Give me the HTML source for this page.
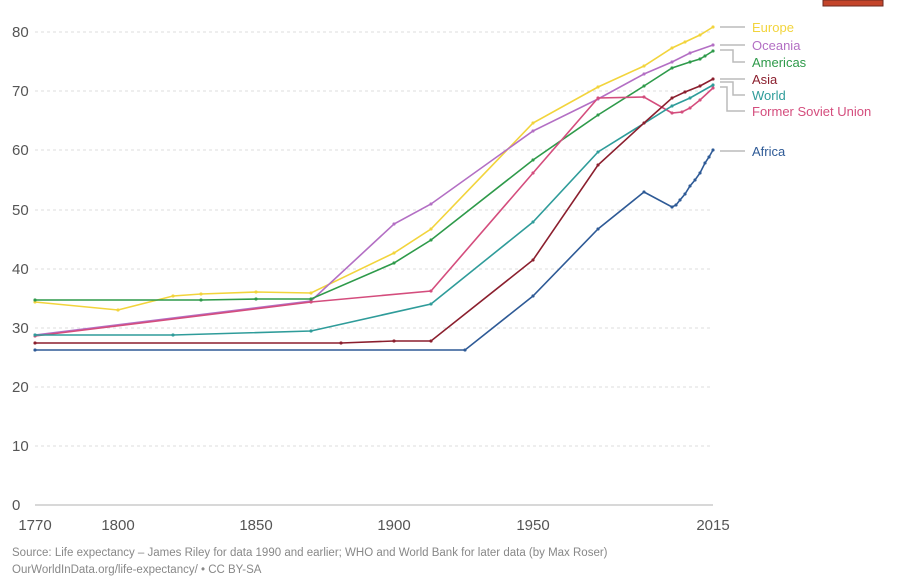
<!DOCTYPE html><html><head><style>body{margin:0;background:#fff}svg{display:block;font-family:"Liberation Sans",sans-serif}</style></head><body>
<svg width="900" height="581" viewBox="0 0 900 581">
<defs>
<marker id="d" viewBox="0 0 4 4" refX="2" refY="2" markerWidth="2" markerHeight="2"><circle cx="2" cy="2" r="2" fill="context-stroke"/></marker>
</defs>
<rect x="823" y="0" width="60" height="6" fill="#c4452b" stroke="#6b2a20" stroke-width="1"/>
<g stroke="#ddd" stroke-dasharray="3,3" stroke-width="1">
<line x1="35" x2="713" y1="32" y2="32"/><line x1="35" x2="713" y1="91" y2="91"/><line x1="35" x2="713" y1="150" y2="150"/><line x1="35" x2="713" y1="210" y2="210"/><line x1="35" x2="713" y1="269" y2="269"/><line x1="35" x2="713" y1="328" y2="328"/><line x1="35" x2="713" y1="387" y2="387"/><line x1="35" x2="713" y1="446" y2="446"/>
</g>
<line x1="35" x2="713" y1="505" y2="505" stroke="#ccc" stroke-width="1.5"/>
<g fill="#555" font-size="15">
<text x="12" y="37">80</text><text x="12" y="96">70</text><text x="12" y="155">60</text><text x="12" y="215">50</text><text x="12" y="274">40</text><text x="12" y="333">30</text><text x="12" y="392">20</text><text x="12" y="451">10</text><text x="12" y="510">0</text>
<text x="35" y="530" text-anchor="middle">1770</text><text x="118" y="530" text-anchor="middle">1800</text><text x="256" y="530" text-anchor="middle">1850</text><text x="394" y="530" text-anchor="middle">1900</text><text x="533" y="530" text-anchor="middle">1950</text><text x="713" y="530" text-anchor="middle">2015</text>
</g>
<g fill="none" stroke-width="1.6" marker-start="url(#d)" marker-mid="url(#d)" marker-end="url(#d)">
<polyline stroke="#f2d43c" points="35,302 118,310 173,296 201,294 256,292 311,293 394,253 431,229 533,123 598,87 644,66 672,48 685,42 700,35 713,27"/>
<polyline stroke="#b36fc4" points="35,335 311,301 394,224 431,204 533,131 598,99 644,74 672,62 690,53 713,45"/>
<polyline stroke="#2e9a4a" points="35,300 201,300 256,299 311,299 394,263 431,240 533,160 598,115 644,86 672,68 690,62 700,59 705,56 713,51"/>
<polyline stroke="#d44d7d" points="35,336 311,302 431,291 533,173 598,98 644,97 672,113 682,112 690,108 700,100 713,88"/>
<polyline stroke="#2f9c9a" points="35,335 173,335 311,331 431,304 533,222 598,152 672,106 690,98 713,85"/>
<polyline stroke="#8b1f2e" points="35,343 341,343 394,341 431,341 533,260 598,165 644,123 672,98 685,92 700,86 713,79"/>
<polyline stroke="#2e5a96" points="35,350 465,350 533,296 598,229 644,192 672,207 676,205 680,200 685,194 690,186 695,180 700,173 705,163 709,157 713,150"/>
</g>
<g stroke="#bbb" fill="none" stroke-width="1.5">
<line x1="720" x2="745" y1="27" y2="27"/>
<line x1="720" x2="745" y1="45" y2="45"/>
<polyline points="720,50 733,50 733,62 745,62"/>
<line x1="720" x2="745" y1="79" y2="79"/>
<polyline points="720,82 733,82 733,95 745,95"/>
<polyline points="720,87 727,87 727,111 745,111"/>
<line x1="720" x2="745" y1="151" y2="151"/>
</g>
<g font-size="13">
<text x="752" y="32" fill="#f2d43c">Europe</text>
<text x="752" y="50" fill="#b36fc4">Oceania</text>
<text x="752" y="67" fill="#2e9a4a">Americas</text>
<text x="752" y="84" fill="#8b1f2e">Asia</text>
<text x="752" y="100" fill="#2f9c9a">World</text>
<text x="752" y="116" fill="#d44d7d">Former Soviet Union</text>
<text x="752" y="156" fill="#2e5a96">Africa</text>
</g>
<g fill="#888" font-size="11.5">
<text x="12" y="556">Source: Life expectancy – James Riley for data 1990 and earlier; WHO and World Bank for later data (by Max Roser)</text>
<text x="12" y="573">OurWorldInData.org/life-expectancy/ • CC BY-SA</text>
</g>
</svg></body></html>
